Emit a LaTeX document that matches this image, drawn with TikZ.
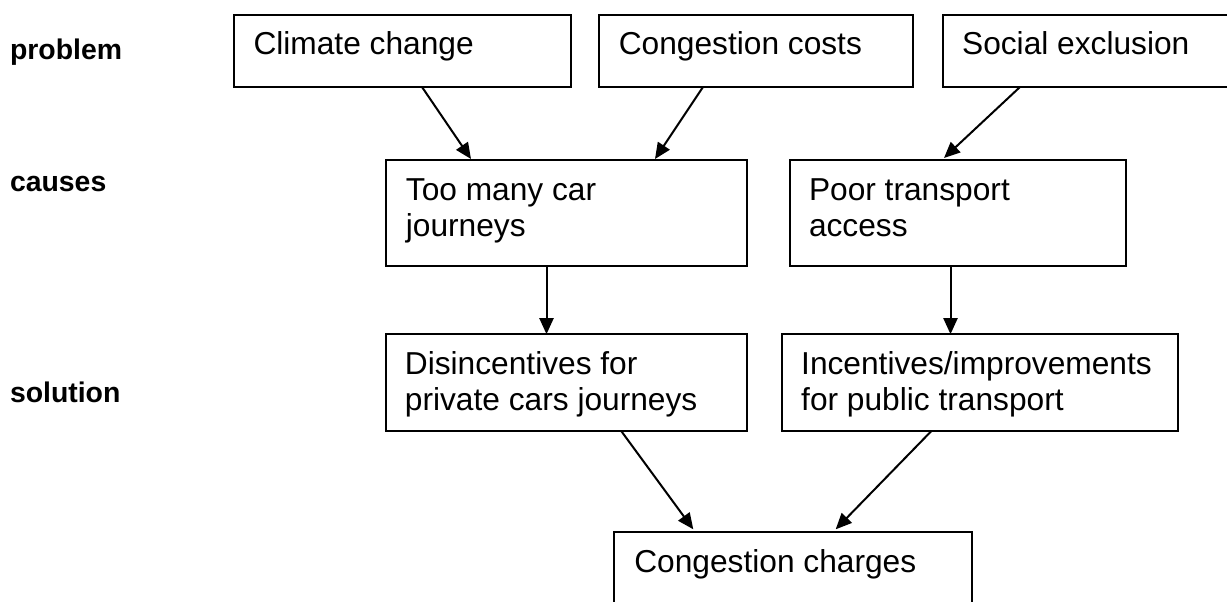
\documentclass[tikz,border=0pt]{standalone}
\usepackage{fontspec}
\setmainfont{Liberation Sans}
\usetikzlibrary{arrows.meta}
\begin{document}
\begin{tikzpicture}[x=1pt,y=1pt,
  box/.style={draw=black, line width=2pt, rectangle, inner sep=0pt, outer sep=0pt, anchor=north west},
  txt/.style={inner sep=0pt, outer sep=0pt, anchor=base west, font=\fontsize{31.7pt}{36pt}\selectfont},
  lbl/.style={inner sep=0pt, outer sep=0pt, anchor=base west, font=\fontsize{28.4pt}{32pt}\selectfont\bfseries},
  arr/.style={line width=2pt, -{Triangle[length=16pt,width=14pt]}}]
\useasboundingbox (0,0) rectangle (1227,-602);
\clip (0,0) rectangle (1227,-602);
\fill[white] (0,0) rectangle (1227,-602);

% row labels
\node[lbl] (lprob) at (10,-60) {problem};
\node[lbl] (lcaus) at (10,-191) {causes};
\node[lbl] (lsol) at (10,-402) {solution};

% boxes
\node[box, minimum width=336.6pt, minimum height=72pt] (clim) at (234,-15) {};
\node[box, minimum width=313.7pt, minimum height=72pt] (cong) at (599.3,-15) {};
\node[box, minimum width=300pt, minimum height=72pt] (soc) at (942.6,-15) {};
\node[box, minimum width=360.3pt, minimum height=106.3pt] (tmcj) at (386.4,-160) {};
\node[box, minimum width=336.2pt, minimum height=106.3pt] (pta) at (789.5,-160) {};
\node[box, minimum width=360.3pt, minimum height=96.5pt] (dis) at (386.4,-334.2) {};
\node[box, minimum width=396pt, minimum height=96.5pt] (inc) at (781.7,-334.2) {};
\node[box, minimum width=357.4pt, minimum height=90pt] (cch) at (614.3,-532.3) {};

% texts
\node[txt] (climT) at ([shift={(19.5,-40)}]clim.north west) {Climate change};
\node[txt] (congT) at ([shift={(19.5,-40)}]cong.north west) {Congestion costs};
\node[txt] (socT) at ([shift={(19.5,-40)}]soc.north west) {Social exclusion};
\node[txt] (tmcjA) at ([shift={(19.5,-40)}]tmcj.north west) {Too many car};
\node[txt] (tmcjB) at ([shift={(19.5,-76)}]tmcj.north west) {journeys};
\node[txt] (ptaA) at ([shift={(19.5,-40)}]pta.north west) {Poor transport};
\node[txt] (ptaB) at ([shift={(19.5,-76)}]pta.north west) {access};
\node[txt] (disA) at ([shift={(18.5,-40)}]dis.north west) {Disincentives for};
\node[txt] (disB) at ([shift={(18.5,-76)}]dis.north west) {private cars journeys};
\node[txt] (incA) at ([shift={(19.5,-40)}]inc.north west) {Incentives/improvements};
\node[txt] (incB) at ([shift={(19.5,-76)}]inc.north west) {for public transport};
\node[txt] (cchT) at ([shift={(20,-40)}]cch.north west) {Congestion charges};

% connectors
\draw[arr] ([xshift=188pt]clim.south west) -- ([shift={(84.6,1)}]tmcj.north west);
\draw[arr] ([xshift=103.7pt]cong.south west) -- ([shift={(268.6,1)}]tmcj.north west);
\draw[arr] ([xshift=77.4pt]soc.south west) -- ([shift={(154.5,2)}]pta.north west);
\draw[arr] ([xshift=160.1pt]tmcj.south west) -- ([xshift=160.1pt]dis.north west);
\draw[arr] ([xshift=161pt]pta.south west) -- ([xshift=168.8pt]inc.north west);
\draw[arr] ([xshift=234.6pt]dis.south west) -- ([shift={(79,3)}]cch.north west);
\draw[arr] ([xshift=150pt]inc.south west) -- ([shift={(221.4,3)}]cch.north west);
\end{tikzpicture}
\end{document}
